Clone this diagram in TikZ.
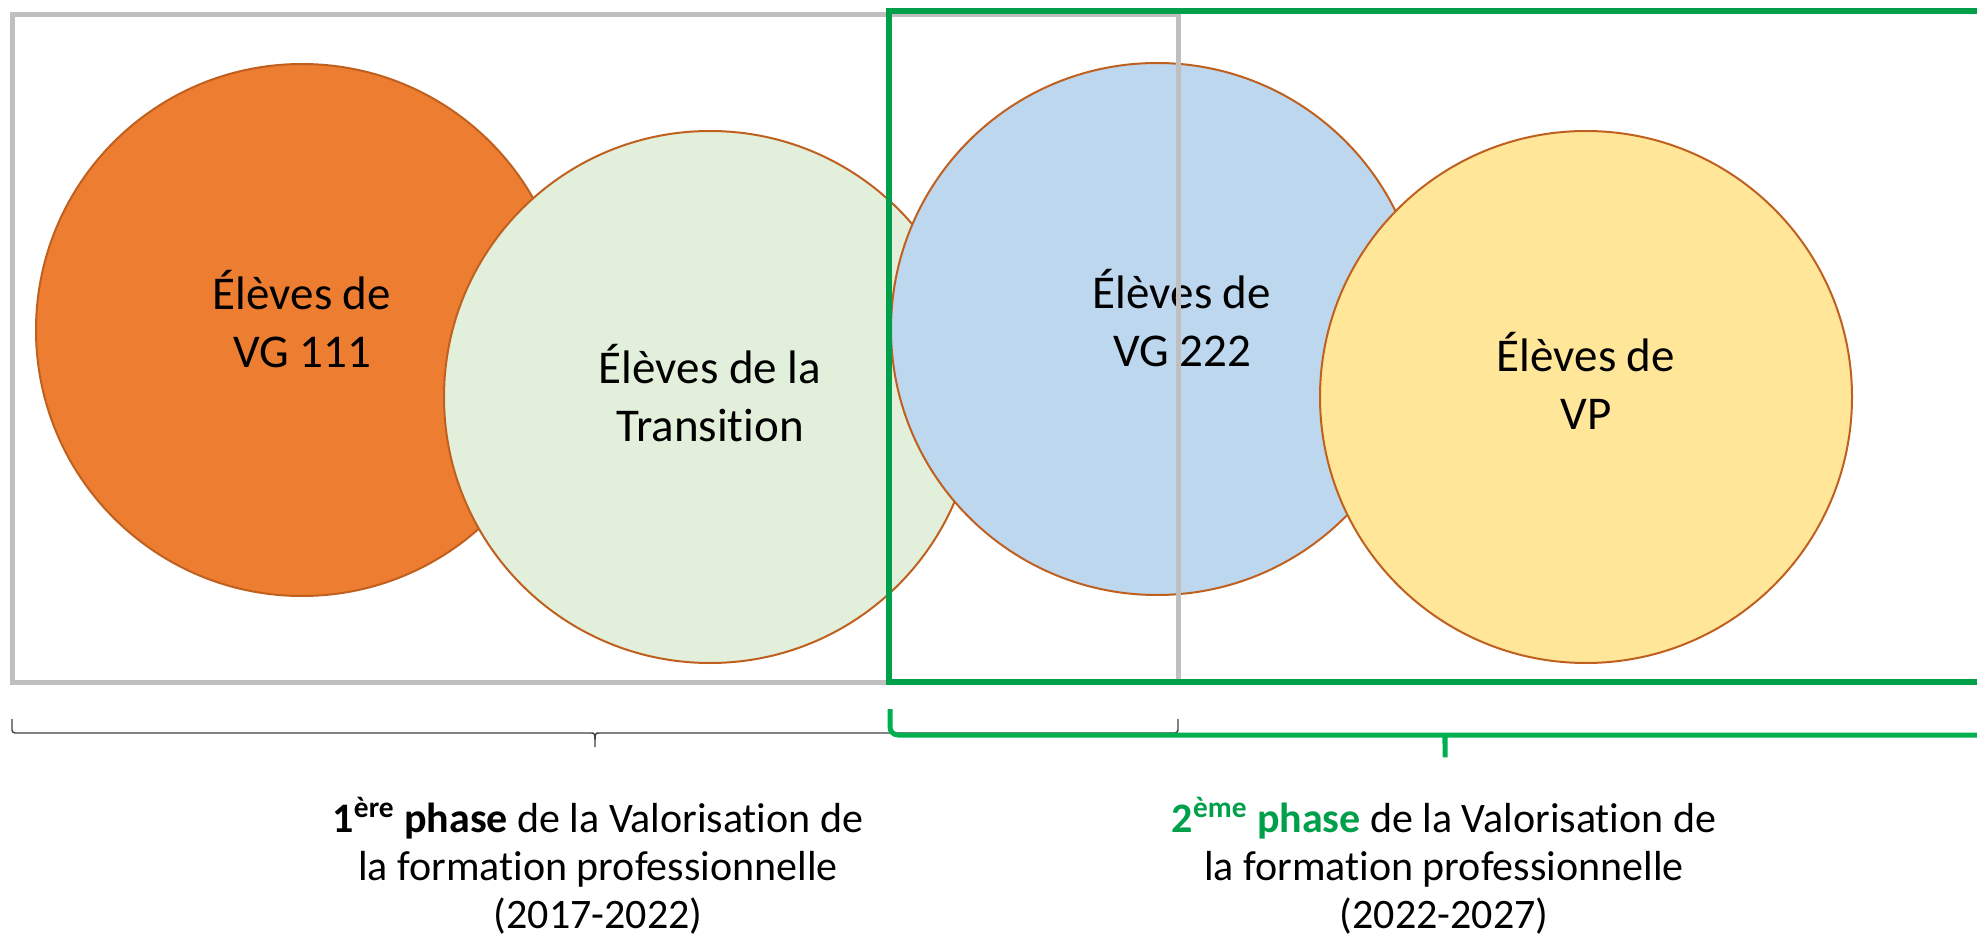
\documentclass[tikz,border=0pt]{standalone}
\usepackage{fontspec}
\setmainfont[Ligatures=NoCommon]{Carlito}
\usetikzlibrary{positioning}

\definecolor{edgebrown}{HTML}{C0601F}
\definecolor{fillorange}{HTML}{ED7D31}
\definecolor{fillgreen}{HTML}{E2EFDA}
\definecolor{fillblue}{HTML}{BDD7EE}
\definecolor{fillyellow}{HTML}{FFE699}
\definecolor{framegray}{HTML}{BFBFBF}
\definecolor{framegreen}{HTML}{00A04B}
\definecolor{bracegreen}{HTML}{00B050}
\definecolor{bracegray}{HTML}{404040}

\begin{document}
\begin{tikzpicture}[x=0.5pt,y=-0.5pt,
  eleves/.style={circle,draw=edgebrown,line width=1pt,minimum size=266pt,inner sep=0pt},
  elevtext/.style={align=center,font=\fontsize{23.5}{29}\selectfont},
  phasetext/.style={align=center,font=\fontsize{21}{24}\selectfont}]
  \useasboundingbox (0,0) rectangle (1977,936);
  \clip (0,0) rectangle (1977,936);

  % les quatre groupes d'eleves
  \node[eleves,fill=fillorange] at (302,330) (vg111) {};
  \node[eleves,fill=fillgreen] at (710,397) (trans) {};
  \node[eleves,fill=fillblue] at (1157,329) (vg222) {};
  \node[eleves,fill=fillyellow] at (1586,397) (vp) {};

  \node[elevtext,yshift=5.5pt] at (vg111) (vg111txt) {Élèves de\\VG 111};
  \node[elevtext,yshift=2pt] at (trans) (transtxt) {Élèves de la\\Transition};
  \node[elevtext,yshift=5.5pt] at ([xshift=12.5pt]vg222.center) (vg222txt) {Élèves de\\VG 222};
  \node[elevtext,yshift=8pt] at (vp) (vptxt) {Élèves de\\VP};

  % cadres des deux phases
  \draw[framegray,line width=2.5pt] (12,15) rectangle (1178,682);
  \draw[framegreen,line width=3pt] (889,11) rectangle (2020,682);

  % accolades
  \coordinate (g1) at (12,719);
  \coordinate (g2) at (1178,719);
  \coordinate (gtip) at (595,749);
  \draw[bracegray,line width=0.7pt,rounded corners=1.5pt]
    (g1) |- ([xshift=-3.5pt]gtip |- 0,733) .. controls (gtip |- 0,733) .. (gtip)
    .. controls (gtip |- 0,733) .. ([xshift=3.5pt]gtip |- 0,733) -| (g2);

  \coordinate (v1) at (890,709);
  \coordinate (v2) at (2020,709);
  \coordinate (vtip) at (1445,762);
  \draw[bracegreen,line width=2.5pt,rounded corners=4pt]
    (v1) |- ([xshift=-4.5pt]vtip |- 0,735) .. controls (vtip |- 0,735) .. (vtip)
    .. controls (vtip |- 0,735) .. ([xshift=4.5pt]vtip |- 0,735) -| (v2);

  % textes des phases
  \node[phasetext] at (598,866) (phase1) {\textbf{1\textsuperscript{ère} phase} de la Valorisation de\\la formation professionnelle\\(2017-2022)};
  \node[phasetext] at (1444,866) (phase2) {\textcolor{framegreen}{\textbf{2\textsuperscript{ème} phase}} de la Valorisation de\\la formation professionnelle\\(2022-2027)};
\end{tikzpicture}
\end{document}
